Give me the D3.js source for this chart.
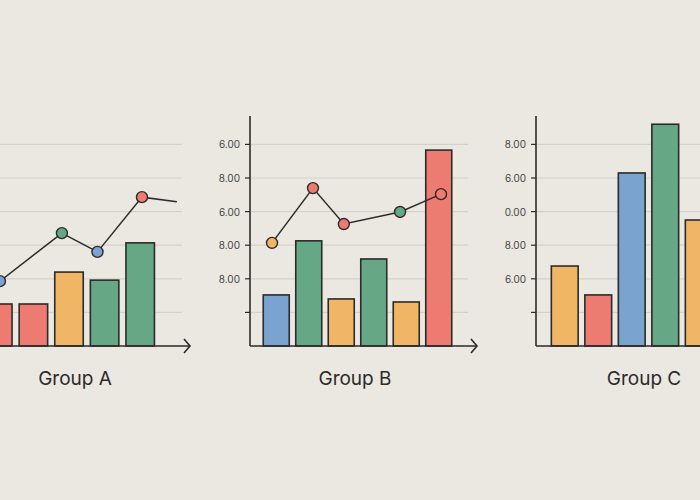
<!DOCTYPE html>
<html><head><meta charset="utf-8">
<script src="https://cdn.jsdelivr.net/npm/d3@7"></script>
<style>body{margin:0;background:#ebe8e1}svg{display:block}</style>
</head><body><div id="chart"></div>
<script>
// data (value units = gridline steps)
const groups = ["Group A", "Group B", "Group C"];
const barsA = [1.25, 1.25, 2.2, 1.96, 3.07];
const colorsA = ["red", "red", "orange", "green", "green"];
const lineA = [1.93, 3.36, 2.8, 4.43, 4.29];
const linePosA = [0.56, 2.3, 3.3, 4.55, 5.53];
const lineColA = ["blue", "green", "blue", "red", null];
const barsB = [1.52, 3.13, 1.4, 2.59, 1.31, 5.83];
const colorsB = ["blue", "green", "orange", "green", "orange", "red"];
const lineB = [3.07, 4.7, 3.63, 3.99, 4.52];
const linePosB = [0.37, 1.63, 2.58, 4.31, 5.57];
const lineColB = ["orange", "red", "red", "green", "red"];
const barsC = [2.38, 1.52, 5.15, 6.6, 3.75];
const colorsC = ["orange", "red", "blue", "green", "orange"];
const tickLabelsB = ["", "8.00", "8.00", "6.00", "8.00", "6.00"];
const tickLabelsC = ["", "6.00", "8.00", "0.00", "6.00", "8.00"];

const palette = {red: "#ee7b72", green: "#66a885", orange: "#f0b665", blue: "#7aa3d0"};
const W = 700, H = 500;
const svg = d3.select("#chart").append("svg").attr("width", W).attr("height", H);
const y = d3.scaleLinear().domain([0, 6]).range([346, 144.4]);

const panels = [
    {name: groups[0], x0: -20, step: 35.6, grid: [0, 182], axis: null, arrow: 190, bars: barsA, cols: colorsA, line: lineA, lpos: linePosA, lcol: lineColA, ticks: null, label: 75},
    {name: groups[1], x0: 260, step: 32.5, grid: [250, 468], axis: 250, arrow: 477, bars: barsB, cols: colorsB, line: lineB, lpos: linePosB, lcol: lineColB, ticks: tickLabelsB, label: 355},
    {name: groups[2], x0: 548, step: 33.5, grid: [536, 710], axis: 536, arrow: null, bars: barsC, cols: colorsC, line: null, ticks: tickLabelsC, label: 644}
];

panels.forEach(p => {
    const x = d3.scaleLinear().domain([0, 1]).range([p.x0, p.x0 + p.step]);
    const g = svg.append("g");
    // gridlines
    g.selectAll(".grid").data(d3.range(1, 7)).enter().append("line")
        .attr("x1", p.grid[0]).attr("x2", p.grid[1])
        .attr("y1", d => y(d)).attr("y2", d => y(d))
        .attr("stroke", "#d4d1ca").attr("stroke-width", 1.2);
    // bars
    const bw = p.step * 0.8;
    g.selectAll(".bar").data(p.bars).enter().append("rect")
        .attr("x", (d, i) => x(i + 0.5) - bw / 2)
        .attr("y", d => y(d)).attr("width", bw).attr("height", d => y(0) - y(d))
        .attr("fill", (d, i) => palette[p.cols[i]])
        .attr("stroke", "#2b2b2b").attr("stroke-width", 1.6);
    // baseline
    const bx2 = p.arrow || 710;
    g.append("line").attr("x1", p.axis == null ? 0 : p.axis).attr("x2", bx2)
        .attr("y1", y(0)).attr("y2", y(0)).attr("stroke", "#2b2b2b").attr("stroke-width", 1.6);
    if (p.arrow) {
        g.append("path").attr("d", `M${p.arrow - 6},${y(0) - 7}L${p.arrow},${y(0)}L${p.arrow - 6},${y(0) + 7}`)
            .attr("fill", "none").attr("stroke", "#2b2b2b").attr("stroke-width", 1.6);
    }
    if (p.axis != null) {
        g.append("line").attr("x1", p.axis).attr("x2", p.axis).attr("y1", 116).attr("y2", y(0))
            .attr("stroke", "#2b2b2b").attr("stroke-width", 1.6);
        g.selectAll(".tick").data(d3.range(1, 7)).enter().append("line")
            .attr("x1", p.axis - 5).attr("x2", p.axis).attr("y1", d => y(d)).attr("y2", d => y(d))
            .attr("stroke", "#2b2b2b").attr("stroke-width", 1.2);
        g.selectAll(".tl").data(d3.range(1, 7)).enter().append("text")
            .attr("x", p.axis - 10).attr("y", d => y(d) + 4).attr("text-anchor", "end")
            .attr("font-family", "Inter, 'DejaVu Sans', sans-serif").attr("font-size", 10)
            .attr("fill", "#444").text(d => p.ticks[d - 1]);
    }
    if (p.line) {
        const pts = p.line.map((v, i) => [x(p.lpos[i]), y(v)]);
        g.append("path").attr("d", d3.line()(pts)).attr("fill", "none")
            .attr("stroke", "#2b2b2b").attr("stroke-width", 1.5);
        g.selectAll(".pt").data(pts.filter((d, i) => p.lcol[i])).enter().append("circle")
            .attr("cx", d => d[0]).attr("cy", d => d[1]).attr("r", 5.5)
            .attr("fill", (d, i) => palette[p.lcol.filter(c => c)[i]])
            .attr("stroke", "#2b2b2b").attr("stroke-width", 1.4);
    }
    g.append("text").attr("x", p.label).attr("y", 385).attr("text-anchor", "middle")
        .attr("font-family", "Inter, 'DejaVu Sans', sans-serif").attr("font-size", 19)
        .attr("fill", "#2b2b2b").text(p.name);
});
</script></body></html>
